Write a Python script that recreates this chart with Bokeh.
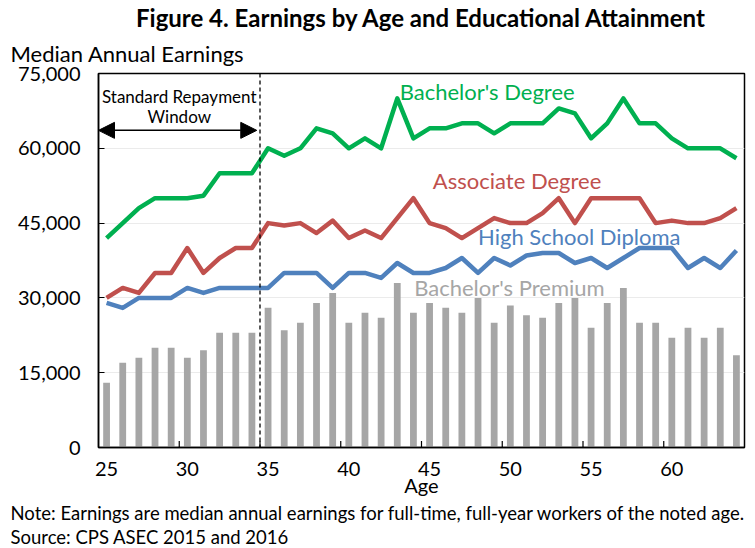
from bokeh.plotting import figure
from bokeh.models import Range1d, FixedTicker, NumeralTickFormatter, Span, Arrow, NormalHead, Label, Title
from bokeh.embed import file_html
from bokeh.resources import INLINE

# ---------------- data ----------------
ages = list(range(25, 65))
bachelors = [42000, 45000, 48000, 50000, 50000, 50000, 50500, 55000, 55000, 55000,
             60000, 58500, 60000, 64000, 63000, 60000, 62000, 60000, 70000, 62000,
             64000, 64000, 65000, 65000, 63000, 65000, 65000, 65000, 68000, 67000,
             62000, 65000, 70000, 65000, 65000, 62000, 60000, 60000, 60000, 58000]
associate = [30000, 32000, 31000, 35000, 35000, 40000, 35000, 38000, 40000, 40000,
             45000, 44500, 45000, 43000, 45500, 42000, 43500, 42000, 46000, 50000,
             45000, 44000, 42000, 44000, 46000, 45000, 45000, 47000, 50000, 45000,
             50000, 50000, 50000, 50000, 45000, 45500, 45000, 45000, 46000, 48000]
high_school = [29000, 28000, 30000, 30000, 30000, 32000, 31000, 32000, 32000, 32000,
               32000, 35000, 35000, 35000, 32000, 35000, 35000, 34000, 37000, 35000,
               35000, 36000, 38000, 35000, 38000, 36500, 38500, 39000, 39000, 37000,
               38000, 36000, 38000, 40000, 40000, 40000, 36000, 38000, 36000, 39500]
premium = [13000, 17000, 18000, 20000, 20000, 18000, 19500, 23000, 23000, 23000,
           28000, 23500, 25000, 29000, 31000, 25000, 27000, 26000, 33000, 27000,
           29000, 28000, 27000, 30000, 25000, 28500, 26500, 26000, 29000, 30000,
           24000, 29000, 32000, 25000, 25000, 22000, 24000, 22000, 24000, 18500]
x_tick_ages = [25, 30, 35, 40, 45, 50, 55, 60]
y_ticks = [0, 15000, 30000, 45000, 60000, 75000]
window_end_age = 35

FONT = "Lato"
GREEN = "#00b050"
RED = "#c0504d"
BLUE = "#4f81bd"
GRAY = "#a6a6a6"

p = figure(width=755, height=548, output_backend="svg", toolbar_location=None,
           x_range=Range1d(ages[0] - 0.5, ages[-1] + 0.5), y_range=Range1d(0, 75000),
           min_border_left=98, min_border_right=11, min_border_top=10, min_border_bottom=10)
p.outline_line_color = "black"
p.outline_line_width = 1.5
p.background_fill_color = "white"
p.border_fill_color = "white"
p.xgrid.visible = False
p.ygrid.grid_line_color = "#ebebeb"
p.ygrid.grid_line_width = 1

# titles (above, stacked)
p.title.text = "Figure 4. Earnings by Age and Educational Attainment"
p.title.text_font = FONT
p.title.text_font_size = "24px"
p.title.text_font_style = "bold"
p.title.align = "center"
p.title.offset = -19
p.title.text_color = "black"
p.title.standoff = 0
p.add_layout(Title(text="Median Annual Earnings", text_font=FONT, text_font_size="22px",
                   text_font_style="normal", align="left", offset=-88, standoff=13,
                   text_color="black"), "above")

# notes (below)
p.add_layout(Title(text="Note: Earnings are median annual earnings for full-time, full-year workers of the noted age.",
                   text_font=FONT, text_font_size="18.5px", text_font_style="normal", align="left",
                   offset=-88, standoff=0, text_color="black"), "below")
p.add_layout(Title(text="Source: CPS ASEC 2015 and 2016", text_font=FONT, text_font_size="18.5px",
                   text_font_style="normal", align="left", offset=-88, standoff=1,
                   text_color="black"), "below")

# axes
p.xaxis.ticker = FixedTicker(ticks=x_tick_ages)
p.xaxis.major_tick_line_color = None
p.xaxis.minor_tick_line_color = None
p.xaxis.axis_line_color = "black"
p.xaxis.axis_line_width = 1.5
p.xaxis.major_label_text_font = FONT
p.xaxis.major_label_text_font_size = "20px"
p.xaxis.major_label_text_color = "black"
p.xaxis.major_label_standoff = 8
p.xaxis.axis_label = "Age"
p.xaxis.axis_label_text_font = FONT
p.xaxis.axis_label_text_font_style = "normal"
p.xaxis.axis_label_text_font_size = "20px"
p.xaxis.axis_label_text_color = "black"
p.xaxis.axis_label_standoff = -6

p.yaxis.ticker = FixedTicker(ticks=y_ticks)
p.yaxis.formatter = NumeralTickFormatter(format="0,0")
p.yaxis.major_tick_in = 6
p.yaxis.major_tick_out = 0
p.yaxis.major_tick_line_color = "black"
p.yaxis.minor_tick_line_color = None
p.yaxis.axis_line_color = "black"
p.yaxis.axis_line_width = 1.5
p.yaxis.major_label_text_font = FONT
p.yaxis.major_label_text_font_size = "20px"
p.yaxis.major_label_text_color = "black"
p.yaxis.major_label_standoff = 18

# bars and lines
p.vbar(x=ages, top=premium, width=0.42, fill_color=GRAY, line_color=None)
p.line(ages, bachelors, line_color=GREEN, line_width=4.5, line_join="round")
p.line(ages, associate, line_color=RED, line_width=4.5, line_join="round")
p.line(ages, high_school, line_color=BLUE, line_width=4.5, line_join="round")

# x tick marks at category boundaries every 5 ages
bounds = [a - 0.5 for a in x_tick_ages[1:]]
p.segment(x0=bounds, y0=[0] * len(bounds), x1=bounds, y1=[1300] * len(bounds),
          line_color="black", line_width=1.2)

# standard repayment window
p.add_layout(Span(location=window_end_age - 0.5, dimension="height", line_color="black",
                  line_dash="4 3", line_width=1.3))
p.add_layout(Arrow(x_start=ages[0] - 0.5, x_end=window_end_age - 0.7, y_start=63600, y_end=63600,
                   line_color="black", line_width=1.5,
                   start=NormalHead(size=16, fill_color="black", line_color="black"),
                   end=NormalHead(size=16, fill_color="black", line_color="black")))

def lab(x, y, text, size, color="black", align="left", style="normal"):
    p.add_layout(Label(x=x, y=y, text=text, text_font=FONT, text_font_size=size,
                       text_color=color, text_align=align, text_baseline="middle",
                       text_font_style=style))

lab(29.5, 70400, "Standard Repayment", "17px", align="center")
lab(29.5, 66400, "Window", "17px", align="center")
lab(43.15, 71400, "Bachelor's Degree", "22px", GREEN)
lab(45.2, 53600, "Associate Degree", "22px", RED)
lab(48.0, 42400, "High School Diploma", "22px", BLUE)
lab(44.05, 32000, "Bachelor's Premium", "22px", GRAY)

open("out.html", "w").write(file_html(p, INLINE))
